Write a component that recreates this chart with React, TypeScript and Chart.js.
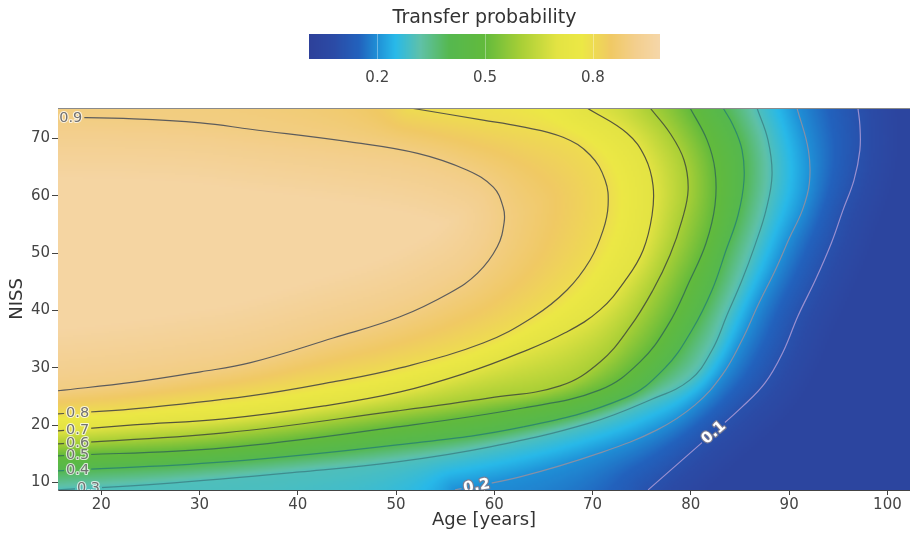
import React, { useEffect, useRef } from "react";
import { Chart, registerables } from "chart.js";

Chart.register(...registerables);

const FONT = '"DejaVu Sans", Verdana, sans-serif';

// ---- axes ----
const ageRange = [15.6, 102.3];
const nissRange = [8.7, 75.3];
const ageTicks = [20, 30, 40, 50, 60, 70, 80, 90, 100];
const nissTicks = [10, 20, 30, 40, 50, 60, 70];

// ---- contour levels and lines [age, NISS] ----
const contourLevels = [0.1, 0.2, 0.3, 0.4, 0.5, 0.6, 0.7, 0.8, 0.9];

const contour01 = [[75.65, 8.73], [78.9, 13.6], [82.26, 18.66], [85.21, 23.19], [87.55, 27.37], [89.38, 32.77], [90.9, 39.04], [92.67, 45.3], [94.3, 51.76], [95.48, 57.5], [96.6, 62.74], [97.2, 67.96], [97.2, 72.3], [97.0, 75.3]];
const contour02 = [[56.0, 8.73], [62.62, 10.99], [70.76, 15.17], [76.56, 19.18], [80.43, 23.54], [83.19, 28.77], [85.21, 34.86], [86.84, 40.96], [88.6, 47.06], [90.03, 52.63], [91.35, 57.5], [92.06, 62.2], [91.96, 67.96], [90.8, 75.3]];
const contour03 = [[15.6, 8.73], [26.0, 9.77], [40.24, 11.86], [50.11, 13.6], [59.57, 16.22], [69.75, 20.4], [75.85, 24.4], [79.92, 27.9], [82.16, 33.1], [83.68, 39.2], [85.21, 45.3], [86.53, 51.4], [87.65, 57.5], [88.26, 63.6], [87.85, 69.7], [86.73, 75.3]];
const contour04 = [[15.6, 12.04], [32.51, 13.6], [50.11, 16.57], [62.93, 19.7], [73.31, 24.76], [77.37, 29.98], [80.12, 36.6], [82.16, 43.57], [83.58, 50.5], [84.8, 56.6], [85.41, 62.74], [85.21, 67.96], [84.29, 72.3], [83.28, 75.3]];
const contour05 = [[15.6, 14.65], [32.51, 16.05], [50.11, 19.7], [62.93, 23.0], [70.76, 26.15], [74.83, 31.03], [77.68, 37.48], [79.92, 45.3], [81.55, 51.76], [82.46, 58.4], [82.46, 64.48], [81.65, 69.7], [79.92, 75.3]];
const contour06 = [[15.6, 16.74], [32.51, 18.66], [50.11, 22.49], [59.57, 24.76], [66.69, 26.85], [70.76, 31.03], [73.81, 37.13], [76.15, 43.57], [77.88, 49.67], [79.1, 55.76], [79.72, 60.99], [79.31, 66.2], [77.88, 70.9], [75.85, 75.3]];
const contour07 = [[15.6, 19.0], [23.26, 20.05], [32.51, 21.1], [42.69, 23.36], [50.42, 25.8], [57.13, 29.11], [62.62, 32.6], [67.2, 36.1], [70.76, 40.1], [73.51, 45.67], [75.14, 50.5], [76.05, 56.6], [76.15, 61.8], [75.34, 66.7], [73.51, 70.9], [69.44, 75.3]];
const contour08 = [[15.6, 21.97], [23.26, 22.84], [35.16, 25.1], [43.6, 27.54], [50.42, 29.98], [58.86, 34.33], [63.95, 38.87], [67.4, 43.57], [69.75, 48.8], [71.07, 54.0], [71.58, 58.36], [71.27, 62.74], [69.75, 67.1], [67.0, 70.2], [62.62, 72.1], [58.86, 73.2], [51.43, 75.3]];
const contour09 = [[15.6, 73.7], [23.3, 73.4], [30.1, 72.7], [35.2, 71.6], [45.3, 69.4], [52.2, 67.4], [57.2, 64.5], [59.9, 61.5], [60.9, 58.0], [61.0, 55.4], [60.3, 51.1], [58.3, 46.5], [55.5, 43.1], [50.4, 38.9], [43.6, 35.2], [35.2, 30.9], [30.1, 29.3], [23.3, 27.5], [15.6, 26.0]];

const contours = [contour01, contour02, contour03, contour04, contour05, contour06, contour07, contour08, contour09];

// ---- colour scale ----
const colorStops = [0.0, 0.08, 0.15, 0.2, 0.25, 0.32, 0.4, 0.5, 0.6, 0.7, 0.77, 0.85, 0.92, 1.0];
const colorHexes = ["#2e3f98", "#2b4ba6", "#2262bd", "#1f8fd6", "#28b9e9", "#5fc1a8", "#55b84f", "#62ba3c", "#a8cf36", "#e3e343", "#ece845", "#f0c964", "#f3cf8e", "#f6d8ae"];
const colorbarRange = [0.01, 0.987];
const colorbarTicks = [0.2, 0.5, 0.8];

// ---- where each contour label sits (age along the line) ----
const labelAges = [82.3, 58.2, 18.7, 17.6, 17.6, 17.6, 17.6, 17.6, 16.9];
const lineColors = ["#9a90d0", "#8690a6", "#3f8c8e", "#2f8a6c", "#3a7650", "#4f5e3a", "#55553c", "#5a5845", "#5c5c5c"];

function hexToRgb(h: string) {
  return [parseInt(h.slice(1, 3), 16), parseInt(h.slice(3, 5), 16), parseInt(h.slice(5, 7), 16)];
}
const stopRgb = colorHexes.map(hexToRgb);
function colorAt(v: number) {
  const x = Math.max(0, Math.min(1, v));
  let k = 0;
  while (k < colorStops.length - 2 && x > colorStops[k + 1]) k++;
  const t = (x - colorStops[k]) / (colorStops[k + 1] - colorStops[k]);
  const a = stopRgb[k], b = stopRgb[k + 1];
  return [a[0] + (b[0] - a[0]) * t, a[1] + (b[1] - a[1]) * t, a[2] + (b[2] - a[2]) * t];
}
const LUT_N = 1024;
const lut: number[][] = [];
for (let i = 0; i <= LUT_N; i++) lut.push(colorAt(i / LUT_N));

function samplePath(points: any[]): number[] {
  const out: number[] = [];
  const SUB = 6;
  for (let j = 0; j < points.length; j++) {
    const p = points[j];
    if (j === 0) { out.push(p.x, p.y); continue; }
    const q = points[j - 1];
    const c1x = q.cp2x ?? q.x, c1y = q.cp2y ?? q.y, c2x = p.cp1x ?? p.x, c2y = p.cp1y ?? p.y;
    for (let k = 1; k <= SUB; k++) {
      const t = k / SUB, u = 1 - t;
      out.push(
        u * u * u * q.x + 3 * u * u * t * c1x + 3 * u * t * t * c2x + t * t * t * p.x,
        u * u * u * q.y + 3 * u * u * t * c1y + 3 * u * t * t * c2y + t * t * t * p.y
      );
    }
  }
  return out;
}

function distTo(poly: number[], px: number, py: number) {
  let best = Infinity;
  for (let k = 0; k < poly.length - 2; k += 2) {
    const ax = poly[k], ay = poly[k + 1], bx = poly[k + 2], by = poly[k + 3];
    const dx = bx - ax, dy = by - ay;
    const l2 = dx * dx + dy * dy;
    let t = l2 > 0 ? ((px - ax) * dx + (py - ay) * dy) / l2 : 0;
    t = t < 0 ? 0 : t > 1 ? 1 : t;
    const ex = ax + t * dx - px, ey = ay + t * dy - py;
    const d = ex * ex + ey * ey;
    if (d < best) best = d;
  }
  return Math.sqrt(best);
}

const contourPlugin = {
  id: "contourShade",
  beforeDatasetsDraw(chart: any) {
    const { ctx, chartArea: ca } = chart;
    const polys: number[][] = chart.data.datasets.map((_: any, i: number) => {
      const meta = chart.getDatasetMeta(i);
      if (meta.dataset && meta.dataset.updateControlPoints) meta.dataset.updateControlPoints(ca, "x");
      return samplePath(meta.data);
    });
    chart.$polys = polys;
    const step = 2;
    const w = ca.right - ca.left, h = ca.bottom - ca.top;
    const W = Math.ceil(w / step), H = Math.ceil(h / step);
    const off = document.createElement("canvas");
    off.width = W; off.height = H;
    const octx = off.getContext("2d")!;
    const img = octx.createImageData(W, H);
    const far = 60;
    const closed = polys.map((p) => {
      const arr = p.slice();
      const lastY = p[p.length - 1];
      if (lastY <= ca.top + 2) arr.push(ca.left - far, ca.top - far, ca.left - far, ca.bottom + far);
      return arr;
    });
    const nP = polys.length;
    for (let j = 0; j < H; j++) {
      const py = ca.top + (j + 0.5) * step;
      const crosses = closed.map((arr) => {
        const xs: number[] = [];
        const m = arr.length / 2;
        for (let k = 0; k < m; k++) {
          const k2 = (k + 1) % m;
          const x1 = arr[2 * k], y1 = arr[2 * k + 1], x2 = arr[2 * k2], y2 = arr[2 * k2 + 1];
          if ((y1 <= py) !== (y2 <= py)) xs.push(x1 + ((py - y1) * (x2 - x1)) / (y2 - y1));
        }
        xs.sort((a, b) => a - b);
        return xs;
      });
      const ptr = new Array(nP).fill(0);
      for (let i = 0; i < W; i++) {
        const px = ca.left + (i + 0.5) * step;
        let n = 0;
        for (let c = 0; c < nP; c++) {
          const xs = crosses[c];
          while (ptr[c] < xs.length && xs[ptr[c]] < px) ptr[c]++;
          if (ptr[c] % 2 === 1) n++;
        }
        let v: number;
        if (n === 0) {
          const d = distTo(polys[0], px, py);
          v = contourLevels[0] - 0.06 * Math.min(1, d / 40);
        } else if (n >= nP) {
          const d = distTo(polys[nP - 1], px, py);
          v = contourLevels[nP - 1] + 0.07 * Math.min(1, d / 60);
        } else {
          const d1 = distTo(polys[n - 1], px, py), d2 = distTo(polys[n], px, py);
          v = contourLevels[n - 1] + ((contourLevels[n] - contourLevels[n - 1]) * d1) / (d1 + d2 + 1e-9);
        }
        const col = lut[Math.round(Math.max(0, Math.min(1, v)) * LUT_N)];
        const o = (j * W + i) * 4;
        img.data[o] = col[0]; img.data[o + 1] = col[1]; img.data[o + 2] = col[2]; img.data[o + 3] = 255;
      }
    }
    octx.putImageData(img, 0, 0);
    chart.$shade = off;
    ctx.save();
    ctx.beginPath();
    ctx.rect(ca.left, ca.top, w, h);
    ctx.clip();
    ctx.imageSmoothingEnabled = true;
    ctx.drawImage(off, ca.left, ca.top, w, h);
    ctx.restore();
  },
  afterDatasetsDraw(chart: any) {
    const { ctx, chartArea: ca } = chart;
    const polys: number[][] = chart.$polys;
    const off = chart.$shade;
    if (!polys || !off) return;
    const w = ca.right - ca.left, h = ca.bottom - ca.top;
    const xs = chart.scales.x;
    ctx.save();
    ctx.beginPath();
    ctx.rect(ca.left, ca.top, w, h);
    ctx.clip();
    polys.forEach((poly, i) => {
      ctx.font = i <= 1 ? `bold 15px ${FONT}` : `14.5px ${FONT}`;
      const tx = xs.getPixelForValue(labelAges[i]);
      let lx = NaN, ly = NaN, ang = 0;
      for (let k = 0; k < poly.length - 2; k += 2) {
        const ax = poly[k], bx = poly[k + 2];
        if ((ax - tx) * (bx - tx) <= 0 && ax !== bx) {
          const t = (tx - ax) / (bx - ax);
          lx = tx; ly = poly[k + 1] + t * (poly[k + 3] - poly[k + 1]);
          ang = Math.atan2(poly[k + 3] - poly[k + 1], bx - ax);
          break;
        }
      }
      if (isNaN(lx)) return;
      if (ang > Math.PI / 2) ang -= Math.PI;
      if (ang < -Math.PI / 2) ang += Math.PI;
      if (Math.abs(ang) < 0.12) ang = 0;
      const text = contourLevels[i].toFixed(1);
      const tw = ctx.measureText(text).width;
      const base = ctx.getTransform();
      ctx.translate(lx, ly);
      ctx.rotate(ang);
      ctx.beginPath();
      ctx.rect(-tw / 2 - 2, -6, tw + 4, 12);
      ctx.setTransform(base);
      ctx.save();
      ctx.clip();
      ctx.drawImage(off, ca.left, ca.top, w, h);
      ctx.restore();
      ctx.save();
      ctx.translate(lx, ly);
      ctx.rotate(ang);
      ctx.textAlign = "center";
      ctx.textBaseline = "middle";
      ctx.lineJoin = "round";
      if (i <= 1) {
        ctx.strokeStyle = "rgba(125,125,145,0.95)";
        ctx.lineWidth = 2.4;
        ctx.strokeText(text, 0, 0.5);
        ctx.fillStyle = "#ffffff";
        ctx.fillText(text, 0, 0.5);
      } else {
        ctx.strokeStyle = "rgba(255,255,255,0.75)";
        ctx.lineWidth = 2.2;
        ctx.strokeText(text, 0, 0.5);
        ctx.fillStyle = "#727272";
        ctx.fillText(text, 0, 0.5);
      }
      ctx.restore();
    });
    ctx.restore();
    // top frame line
    ctx.save();
    ctx.strokeStyle = "#8a8a8a";
    ctx.lineWidth = 1;
    ctx.beginPath();
    ctx.moveTo(ca.left, ca.top + 0.5);
    ctx.lineTo(ca.right, ca.top + 0.5);
    ctx.stroke();
    ctx.restore();
  },
  afterDraw(chart: any) {
    const { ctx } = chart;
    const cbLeft = 309, cbRight = 660, cbTop = 34, cbBottom = 59;
    const [vMin, vMax] = colorbarRange;
    ctx.save();
    for (let px = cbLeft; px < cbRight; px++) {
      const v = vMin + ((px - cbLeft + 0.5) / (cbRight - cbLeft)) * (vMax - vMin);
      const c = colorAt(v);
      ctx.fillStyle = `rgb(${Math.round(c[0])},${Math.round(c[1])},${Math.round(c[2])})`;
      ctx.fillRect(px, cbTop, 1, cbBottom - cbTop);
    }
    ctx.font = `15px ${FONT}`;
    ctx.fillStyle = "#444";
    ctx.textAlign = "center";
    ctx.textBaseline = "middle";
    colorbarTicks.forEach((t) => {
      const px = cbLeft + ((t - vMin) / (vMax - vMin)) * (cbRight - cbLeft);
      ctx.strokeStyle = "rgba(255,255,255,0.35)";
      ctx.beginPath();
      ctx.moveTo(Math.round(px) + 0.5, cbTop);
      ctx.lineTo(Math.round(px) + 0.5, cbBottom);
      ctx.stroke();
      ctx.fillText(t.toFixed(1), px, 78);
    });
    ctx.font = `19px ${FONT}`;
    ctx.fillStyle = "#333";
    ctx.textBaseline = "alphabetic";
    ctx.fillText("Transfer probability", (cbLeft + cbRight) / 2, 23);
    ctx.restore();
  },
};

export default function App() {
  const ref = useRef<HTMLCanvasElement | null>(null);
  useEffect(() => {
    if (!ref.current) return;
    const datasets = contours.map((pts, i) => ({
      label: contourLevels[i].toFixed(1),
      data: pts.map(([x, y]) => ({ x, y })),
      showLine: true,
      pointRadius: 0,
      pointHoverRadius: 0,
      borderColor: lineColors[i],
      borderWidth: 1.2,
      tension: 0.4,
      fill: false,
    }));
    const chart = new Chart(ref.current, {
      type: "scatter",
      data: { datasets },
      plugins: [contourPlugin],
      options: {
        animation: false,
        responsive: false,
        maintainAspectRatio: false,
        events: [],
        layout: { padding: { top: 108, left: 0, right: 0, bottom: 0 } },
        plugins: { legend: { display: false }, tooltip: { enabled: false } },
        scales: {
          x: {
            type: "linear",
            min: ageRange[0],
            max: ageRange[1],
            afterBuildTicks: (s: any) => { s.ticks = ageTicks.map((v) => ({ value: v })); },
            afterFit: (s: any) => { s.height = 47; },
            grid: { drawOnChartArea: false, drawTicks: true, tickLength: 5, color: "#444" },
            border: { display: true, color: "#444", width: 1 },
            ticks: { font: { family: FONT, size: 15 }, color: "#444", padding: 1, maxRotation: 0, autoSkip: false },
            title: { display: true, text: "Age [years]", font: { family: FONT, size: 18 }, color: "#333", padding: { top: 0, bottom: 6 } },
          },
          y: {
            type: "linear",
            min: nissRange[0],
            max: nissRange[1],
            afterBuildTicks: (s: any) => { s.ticks = nissTicks.map((v) => ({ value: v })); },
            afterFit: (s: any) => { s.width = 58; },
            grid: { drawOnChartArea: false, drawTicks: true, tickLength: 6, color: "#444" },
            border: { display: true, color: "#777", width: 1 },
            ticks: { font: { family: FONT, size: 15 }, color: "#444", padding: 2, autoSkip: false },
            title: { display: true, text: "NISS", font: { family: FONT, size: 18 }, color: "#333", padding: { top: 7, bottom: 0 } },
          },
        },
      } as any,
    });
    return () => chart.destroy();
  }, []);
  return (
    <div style={{ position: "absolute", left: 0, top: 0, width: 910, height: 537, background: "#fff" }}>
      <canvas ref={ref} width={910} height={537} style={{ display: "block", width: 910, height: 537 }} />
    </div>
  );
}
